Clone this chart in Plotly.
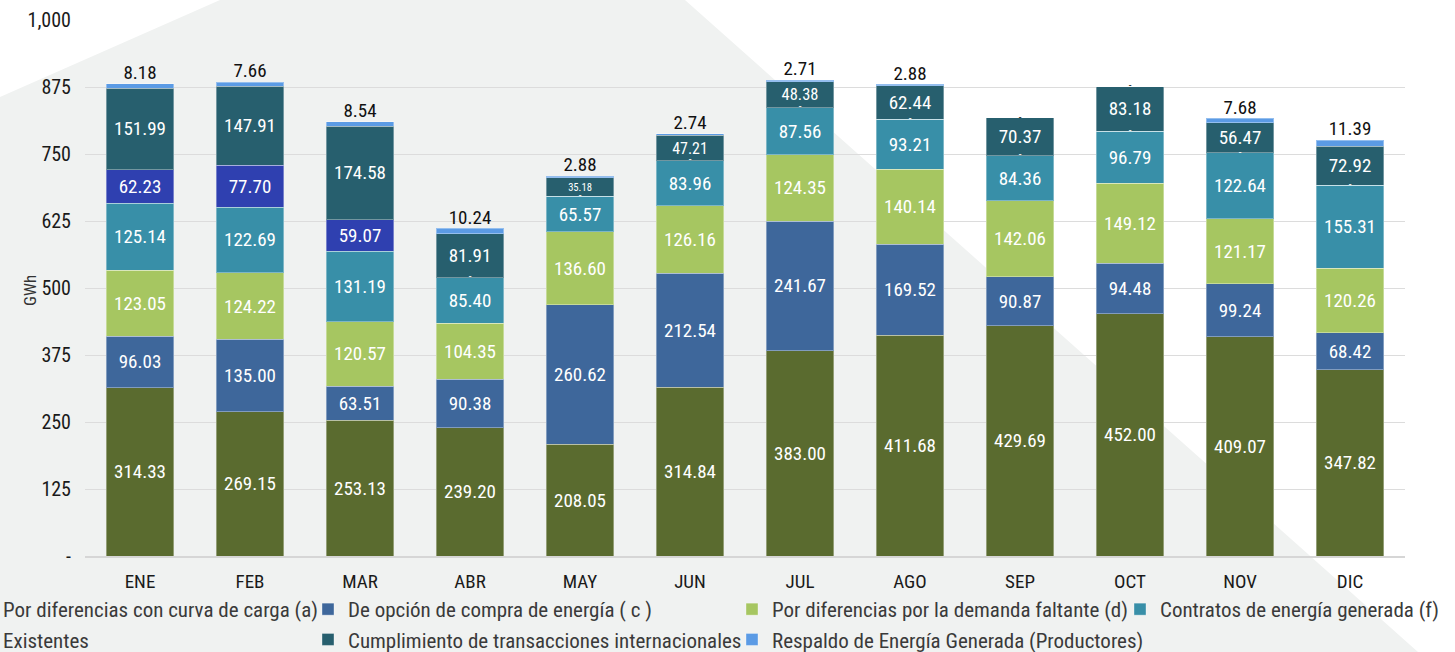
import plotly.graph_objects as go

W, H = 1455, 652

meses = ["ENE", "FEB", "MAR", "ABR", "MAY", "JUN", "JUL", "AGO", "SEP", "OCT", "NOV", "DIC"]

curva_carga = [314.33, 269.15, 253.13, 239.20, 208.05, 314.84, 383.00, 411.68, 429.69, 452.00, 409.07, 347.82]
opcion_compra = [96.03, 135.00, 63.51, 90.38, 260.62, 212.54, 241.67, 169.52, 90.87, 94.48, 99.24, 68.42]
demanda_faltante = [123.05, 124.22, 120.57, 104.35, 136.60, 126.16, 124.35, 140.14, 142.06, 149.12, 121.17, 120.26]
contratos = [125.14, 122.69, 131.19, 85.40, 65.57, 83.96, 87.56, 93.21, 84.36, 96.79, 122.64, 155.31]
existentes = [62.23, 77.70, 59.07, 0, 0, 0, 0, 0, 0, 0, 0, 0]
transacciones = [151.99, 147.91, 174.58, 81.91, 35.18, 47.21, 48.38, 62.44, 70.37, 83.18, 56.47, 72.92]
respaldo = [8.18, 7.66, 8.54, 10.24, 2.88, 2.74, 2.71, 2.88, 0, 0, 7.68, 11.39]

y_ticks = [0, 125, 250, 375, 500, 625, 750, 875, 1000]
y_ticktext = ["-", "125", "250", "375", "500", "625", "750", "875", "1,000"]

series = [
    ("Por diferencias con curva de carga (a)", curva_carga, "#5A6B2F", "legend"),
    ("De opción de compra de energía ( c )", opcion_compra, "#3E679B", "legend2"),
    ("Por diferencias por la demanda faltante (d)", demanda_faltante, "#A6C661", "legend3"),
    ("Contratos de energía generada (f)", contratos, "#388FA8", "legend4"),
    ("Existentes", existentes, "#2F40B0", "legend"),
    ("Cumplimiento de transacciones internacionales", transacciones, "#275F6E", "legend2"),
    ("Respaldo de Energía Generada (Productores)", respaldo, "#5B9BE5", "legend3"),
]

FONT = "Roboto Condensed, Liberation Sans Narrow, DejaVu Sans Condensed, Roboto"

def px_x(p):
    return p / W

def px_y(p):
    return 1 - p / H

fig = go.Figure()

for name, vals, color, leg in series:
    show_text = name != "Respaldo de Energía Generada (Productores)"
    fig.add_trace(go.Bar(
        x=meses, y=vals, name=name,
        marker=dict(color=color, line=dict(color="rgba(255,255,255,0.35)", width=1)),
        text=[f"{v:.2f}" if (v > 0 and show_text) else "" for v in vals],
        textposition="inside", insidetextanchor="middle", textangle=0,
        textfont=dict(family=FONT, size=19, color="white"),
        legend=leg, hoverinfo="x+y+name",
    ))

# acumulados para etiquetas de ceros y totales
base_exist = [a + b + c + d for a, b, c, d in zip(curva_carga, opcion_compra, demanda_faltante, contratos)]
totales = [b + e + t + r for b, e, t, r in zip(base_exist, existentes, transacciones, respaldo)]

zx = [m for m, e in zip(meses, existentes) if e == 0]
zy = [b for b, e in zip(base_exist, existentes) if e == 0]
fig.add_trace(go.Scatter(
    x=zx, y=zy, mode="text", text=["-"] * len(zx), textposition="middle center",
    textfont=dict(family=FONT, size=11, color="white"), showlegend=False, hoverinfo="skip",
))

fig.add_trace(go.Scatter(
    x=meses, y=totales, mode="text",
    text=[f"{r:.2f}" if r > 0 else "-" for r in respaldo],
    textposition=["top center" if r > 0 else "middle center" for r in respaldo],
    textfont=dict(family=FONT, size=[19 if r > 0 else 11 for r in respaldo], color="#111111"),
    showlegend=False, hoverinfo="skip",
))

# fondo decorativo
bg_path = (f"M {px_x(0)},{px_y(97)} L {px_x(220)},{px_y(0)} L {px_x(685)},{px_y(0)} "
           f"L {px_x(1418)},{px_y(652)} L {px_x(0)},{px_y(652)} Z")
fig.add_shape(type="path", path=bg_path, xref="paper", yref="paper",
              fillcolor="#F0F2F1", line=dict(width=0), layer="below")

fig.add_annotation(text="GWh", x=px_x(18), y=px_y(291), xref="paper", yref="paper",
                   textangle=-90, showarrow=False, font=dict(family=FONT, size=17, color="#333333"))

leg_common = dict(orientation="v", xanchor="left", yanchor="top", traceorder="normal",
                  bgcolor="rgba(0,0,0,0)", tracegroupgap=0,
                  font=dict(family=FONT, size=21, color="#3a3a3a"), y=px_y(589))

fig.update_layout(
    width=W, height=H,
    barmode="stack", bargap=0.39,
    paper_bgcolor="white", plot_bgcolor="rgba(0,0,0,0)",
    margin=dict(l=0, r=0, t=0, b=0, autoexpand=False),
    font=dict(family=FONT, size=19, color="#1a1a1a"),
    xaxis=dict(domain=[px_x(85), px_x(1405)], type="category", range=[-0.5, 11.5],
               showgrid=False, showline=True, linecolor="#D6D6D6", linewidth=2,
               ticks="outside", ticklen=7, tickcolor="rgba(0,0,0,0)",
               tickfont=dict(family=FONT, size=19, color="#1a1a1a")),
    yaxis=dict(domain=[px_y(556), px_y(20)], range=[0, 1000],
               tickvals=y_ticks, ticktext=y_ticktext,
               showgrid=True, gridcolor="#DCDCDC", gridwidth=1, zeroline=False,
               ticks="outside", ticklen=9, tickcolor="rgba(0,0,0,0)",
               tickfont=dict(family=FONT, size=20, color="#1a1a1a")),
    showlegend=True,
    legend=dict(leg_common, x=px_x(-37)),
    legend2=dict(leg_common, x=px_x(308)),
    legend3=dict(leg_common, x=px_x(732)),
    legend4=dict(leg_common, x=px_x(1120)),
)

fig.write_html("out.html", config={"displayModeBar": False},
               post_script="document.body.style.margin='0';")
